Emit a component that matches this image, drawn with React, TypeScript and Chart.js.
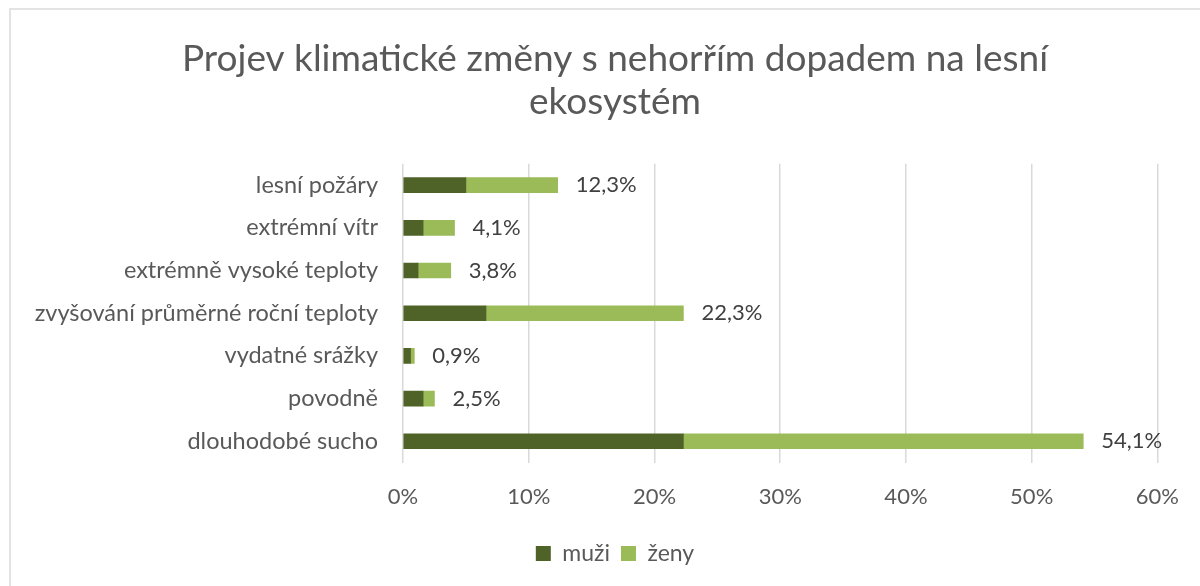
import React, { useEffect, useRef } from "react";
import { Chart, registerables } from "chart.js";

Chart.register(...registerables);

const categories = [
  "lesní požáry",
  "extrémní vítr",
  "extrémně vysoké teploty",
  "zvyšování průměrné roční teploty",
  "vydatné srážky",
  "povodně",
  "dlouhodobé sucho",
];
const muzi = [5.0, 1.6, 1.2, 6.6, 0.6, 1.6, 22.3];
const zeny = [7.3, 2.5, 2.6, 15.7, 0.3, 0.9, 31.8];
const totals = ["12,3%", "4,1%", "3,8%", "22,3%", "0,9%", "2,5%", "54,1%"];
const xTicks = [0, 10, 20, 30, 40, 50, 60];

const FONT = "Lato, 'Open Sans', sans-serif";
const TEXT = "#595959";

const totalLabels = {
  id: "totalLabels",
  afterLayout(chart: any) {
    // let long category labels extend left of the layout padding without clipping
    if (chart.scales.y) chart.scales.y.left = 0;
  },
  afterDatasetsDraw(chart: any) {
    const ctx = chart.ctx;
    const meta = chart.getDatasetMeta(chart.data.datasets.length - 1);
    ctx.save();
    ctx.font = `22px ${FONT}`;
    ctx.fillStyle = "#404040";
    ctx.textAlign = "left";
    ctx.textBaseline = "middle";
    meta.data.forEach((el: any, i: number) => {
      ctx.fillText(totals[i], el.x + 18, el.y);
    });
    ctx.restore();
  },
};

export default function App() {
  const ref = useRef<HTMLCanvasElement>(null);
  useEffect(() => {
    if (!ref.current) return;
    const chart = new Chart(ref.current, {
      type: "bar",
      data: {
        labels: categories,
        datasets: [
          { label: "muži", data: muzi, backgroundColor: "#4f6228", barThickness: 15 },
          { label: "ženy", data: zeny, backgroundColor: "#9bbb59", barThickness: 15 },
        ],
      },
      options: {
        indexAxis: "y",
        animation: false,
        responsive: false,
        maintainAspectRatio: false,
        layout: { padding: { left: 70, right: 40, top: 0, bottom: 11 } },
        plugins: {
          title: {
            display: true,
            text: ["Projev klimatické změny s nehorřím dopadem na lesní", "ekosystém"],
            font: { family: FONT, size: 37, weight: "normal", lineHeight: 1.16 },
            color: TEXT,
            padding: { top: 38, bottom: 40 },
          },
          legend: {
            position: "bottom",
            labels: {
              font: { family: FONT, size: 23 },
              color: TEXT,
              boxWidth: 15,
              boxHeight: 15,
              padding: 11,
            },
          },
          tooltip: { enabled: false },
        },
        scales: {
          x: {
            stacked: true,
            min: 0,
            max: 60,
            afterBuildTicks: (s: any) => {
              s.ticks = xTicks.map((v) => ({ value: v }));
            },
            ticks: {
              callback: (v: any) => v + "%",
              font: { family: FONT, size: 22 },
              color: TEXT,
              padding: 21,
            },
            grid: { color: "#d9d9d9", drawTicks: false, lineWidth: 1.5 },
            border: { display: false },
          },
          y: {
            stacked: true,
            afterFit: (s: any) => {
              s.width = 333;
            },
            ticks: {
              font: { family: FONT, size: 23.5 },
              color: TEXT,
              padding: 25,
            },
            grid: { display: false, drawTicks: false },
            border: { display: false },
          },
        },
      },
      plugins: [totalLabels],
    });
    return () => chart.destroy();
  }, []);
  return (
    <div style={{ position: "fixed", left: 0, top: 0, width: 1200, height: 586, background: "#fff" }}>
      <div
        style={{
          position: "absolute",
          left: 9,
          top: 8,
          right: -10,
          bottom: -10,
          borderTop: "2px solid #e3e3e3",
          borderLeft: "2px solid #e3e3e3",
        }}
      />
      <canvas ref={ref} width={1200} height={586} style={{ position: "absolute", left: 0, top: 0 }} />
    </div>
  );
}
